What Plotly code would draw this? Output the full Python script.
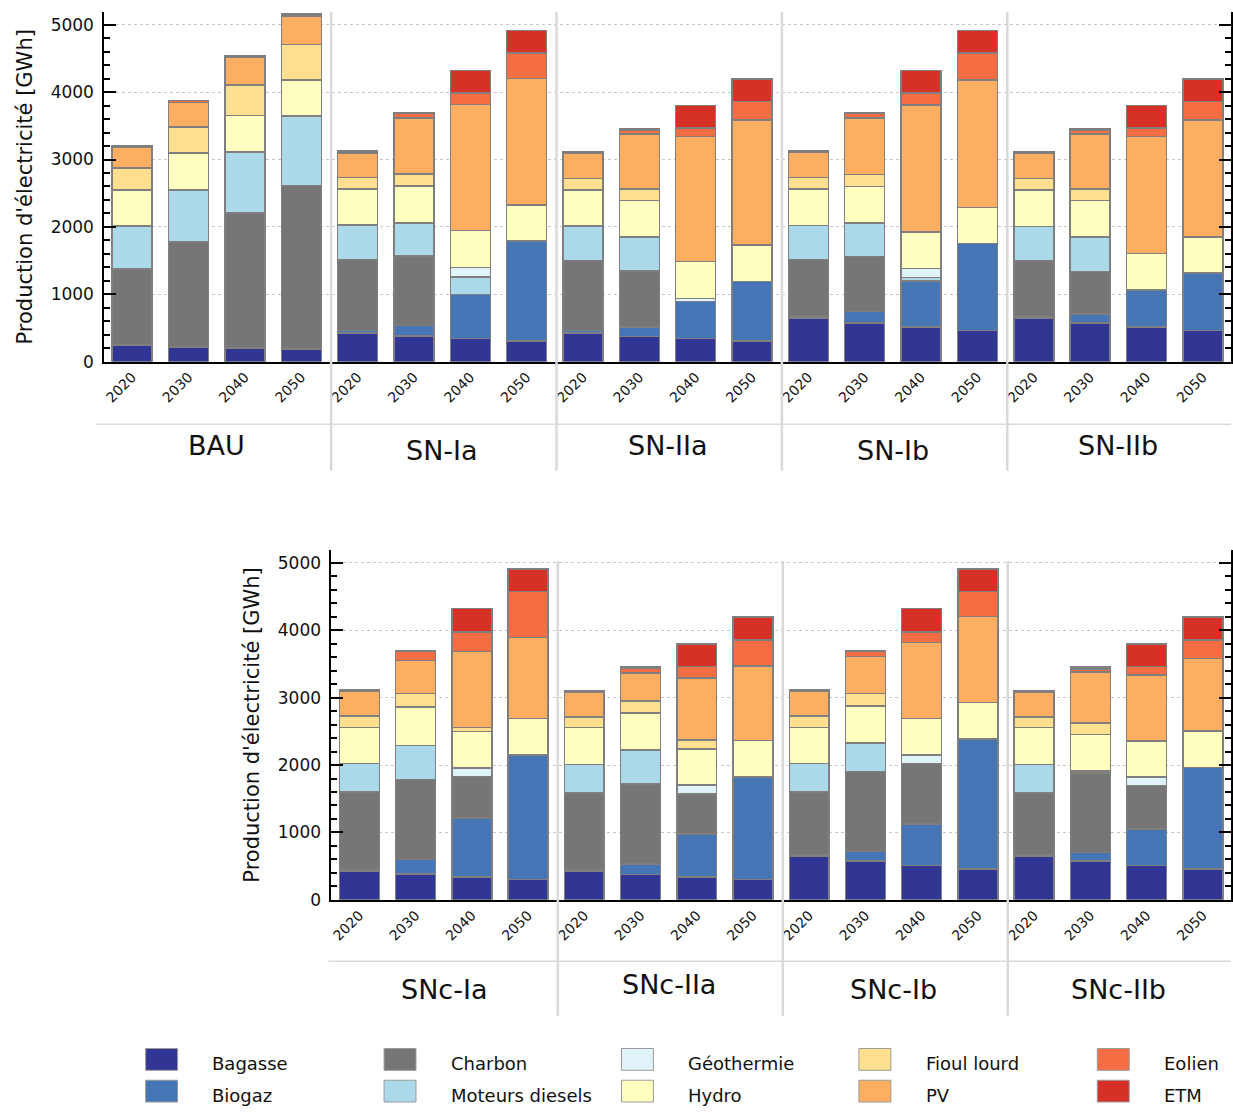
import plotly.graph_objects as go

W, H = 1233, 1115

years = ["2020", "2030", "2040", "2050"]
top_scenarios = ["BAU", "SN-Ia", "SN-IIa", "SN-Ib", "SN-IIb"]
bottom_scenarios = ["SNc-Ia", "SNc-IIa", "SNc-Ib", "SNc-IIb"]
techs = ["Bagasse", "Biogaz", "Charbon", "Moteurs diesels", "Géothermie",
         "Hydro", "Fioul lourd", "PV", "Eolien", "ETM"]
colors = ["#313695", "#4575b4", "#767676", "#abd9e9", "#e0f3f8",
          "#ffffbf", "#fee090", "#fdae61", "#f46d43", "#d73027"]

# ---- top panel values (GWh), 5 scenarios x 4 years ----
bagasse_top = [245, 221, 206, 186, 426, 382, 343, 304, 426, 377, 343, 304, 647, 578, 515, 466, 647, 578, 515, 466]
biogaz_top = [0, 0, 0, 0, 40, 157, 652, 1485, 40, 138, 549, 887, 25, 167, 686, 1289, 25, 133, 549, 848]
charbon_top = [1127, 1558, 2000, 2427, 1054, 1030, 0, 0, 1039, 833, 0, 0, 848, 814, 0, 0, 833, 627, 0, 0]
diesel_top = [638, 770, 907, 1029, 505, 490, 265, 0, 505, 500, 0, 0, 500, 500, 49, 0, 500, 510, 0, 0]
geo_top = [0, 0, 0, 0, 0, 0, 137, 0, 0, 0, 49, 0, 0, 0, 132, 0, 0, 0, 0, 0]
hydro_top = [539, 549, 539, 539, 539, 549, 549, 539, 539, 544, 544, 539, 544, 539, 544, 534, 544, 544, 544, 539]
fioul_top = [328, 382, 451, 525, 166, 176, 0, 0, 172, 167, 0, 0, 166, 181, 0, 0, 172, 167, 0, 0]
pv_top = [309, 368, 407, 426, 368, 834, 1873, 1873, 367, 823, 1858, 1858, 373, 839, 1883, 1887, 367, 823, 1735, 1735]
eolien_top = [25, 29, 24, 25, 25, 68, 166, 377, 25, 49, 123, 270, 24, 68, 176, 402, 25, 49, 123, 270]
etm_top = [0, 0, 0, 0, 0, 15, 339, 339, 0, 20, 333, 338, 0, 15, 339, 339, 0, 20, 333, 338]

# ---- bottom panel values (GWh), 4 scenarios x 4 years ----
bagasse_bot = [426, 387, 338, 299, 426, 377, 338, 299, 647, 574, 510, 461, 647, 574, 510, 461]
biogaz_bot = [25, 211, 873, 1853, 20, 157, 637, 1520, 29, 147, 613, 1926, 29, 132, 539, 1505]
charbon_bot = [1147, 1186, 622, 0, 1142, 1187, 599, 0, 922, 1186, 897, 0, 912, 1176, 647, 0]
diesel_bot = [422, 505, 0, 0, 417, 504, 0, 0, 422, 417, 0, 0, 417, 30, 0, 0]
geo_bot = [0, 0, 123, 0, 0, 0, 127, 0, 0, 0, 127, 0, 0, 0, 123, 0]
hydro_bot = [539, 574, 539, 539, 549, 550, 539, 544, 539, 553, 544, 539, 549, 544, 539, 539]
fioul_bot = [166, 196, 64, 0, 162, 176, 133, 0, 166, 182, 0, 0, 162, 171, 0, 0]
pv_bot = [373, 490, 1122, 1201, 367, 412, 916, 1108, 373, 554, 1128, 1275, 367, 750, 980, 1078]
eolien_bot = [20, 137, 294, 686, 25, 73, 172, 387, 20, 73, 156, 377, 25, 49, 123, 275]
etm_bot = [0, 15, 349, 334, 0, 15, 333, 338, 0, 15, 349, 334, 0, 25, 333, 338]

top_values = [bagasse_top, biogaz_top, charbon_top, diesel_top, geo_top,
              hydro_top, fioul_top, pv_top, eolien_top, etm_top]
bot_values = [bagasse_bot, biogaz_bot, charbon_bot, diesel_bot, geo_bot,
              hydro_bot, fioul_bot, pv_bot, eolien_bot, etm_bot]

FONT = "DejaVu Sans"
TXT = "#111111"

n_top = len(top_scenarios) * len(years)
n_bot = len(bottom_scenarios) * len(years)
x_top = list(range(n_top))
x_bot = list(range(n_bot))

fig = go.Figure()
for name, col, vt, vb in zip(techs, colors, top_values, bot_values):
    fig.add_trace(go.Bar(x=x_top, y=vt, name=name, marker=dict(color=col, line=dict(color="#7f7f7f", width=1.5)),
                         xaxis="x", yaxis="y", showlegend=False))
    fig.add_trace(go.Bar(x=x_bot, y=vb, name=name, marker=dict(color=col, line=dict(color="#7f7f7f", width=1.5)),
                         xaxis="x2", yaxis="y2", showlegend=False))


def px(x):
    return x / W


def py(y):
    return 1 - y / H


def fnt(size, weight=400):
    return dict(family=FONT, size=size, color=TXT, weight=weight)


yaxis_common = dict(
    range=[0, 5190], dtick=1000, tick0=0, ticks="inside", ticklen=12, tickwidth=1.5, tickcolor="black",
    showline=True, linecolor="black", linewidth=1.5, mirror="ticks",
    showgrid=True, gridcolor="#c8c8c8", griddash="dot", gridwidth=1,
    minor=dict(dtick=200, ticks="inside", ticklen=6, tickcolor="black", showgrid=False),
    tickfont=fnt(17), zeroline=False, ticklabelstandoff=5,
    title=dict(text="Production d'électricité [GWh]", font=fnt(21), standoff=12),
)
xaxis_common = dict(
    tickangle=-45, tickfont=fnt(14), showline=True, linecolor="black",
    linewidth=1.5, ticks="", showgrid=False, zeroline=False,
)

fig.update_layout(
    width=W, height=H, margin=dict(l=0, r=0, t=0, b=0),
    paper_bgcolor="white", plot_bgcolor="white", barmode="stack", bargap=0.29,
    font=fnt(14),
    xaxis=dict(domain=[px(103.3), px(1233)], range=[-0.5, n_top - 0.5], tickvals=x_top,
               ticktext=years * len(top_scenarios), anchor="y", **xaxis_common),
    yaxis=dict(domain=[py(365), py(12)], anchor="x", **yaxis_common),
    xaxis2=dict(domain=[px(331), px(1233)], range=[-0.5, n_bot - 0.5], tickvals=x_bot,
                ticktext=years * len(bottom_scenarios), anchor="y2", **xaxis_common),
    yaxis2=dict(domain=[py(908), py(555)], anchor="x2", **yaxis_common),
)

shapes = []
annotations = []
# group separators, baselines and scenario labels
for k in range(1, len(top_scenarios)):
    shapes.append(dict(type="line", xref="x", yref="paper", x0=4 * k - 0.47, x1=4 * k - 0.47,
                       y0=py(475), y1=py(12), line=dict(color="#d9d9d9", width=2.5), layer="above"))
shapes.append(dict(type="line", xref="paper", yref="paper", x0=px(95), x1=px(1233), y0=py(428), y1=py(428),
                   line=dict(color="#d9d9d9", width=1.5)))
for k, s in enumerate(top_scenarios):
    annotations.append(dict(text=s, xref="x", yref="paper", x=4 * k + 1.5, y=py(455 if k % 2 else 450),
                            showarrow=False, font=fnt(27), xanchor="center", yanchor="middle"))
for k in range(1, len(bottom_scenarios)):
    shapes.append(dict(type="line", xref="x2", yref="paper", x0=4 * k - 0.47, x1=4 * k - 0.47,
                       y0=py(1025), y1=py(566), line=dict(color="#d9d9d9", width=2.5), layer="above"))
shapes.append(dict(type="line", xref="paper", yref="paper", x0=px(328), x1=px(1233), y0=py(970), y1=py(970),
                   line=dict(color="#d9d9d9", width=1.5)))
for k, s in enumerate(bottom_scenarios):
    annotations.append(dict(text=s, xref="x2", yref="paper", x=4 * k + 1.5, y=py(993 if k == 1 else 998),
                            showarrow=False, font=fnt(27), xanchor="center", yanchor="middle"))

# legend (2 rows x 5 columns)
box_x = [145, 384, 622, 860, 1099]
row_y = [1069, 1101]
for i, (name, col) in enumerate(zip(techs, colors)):
    c, r = i // 2, i % 2
    x0 = box_x[c]
    yc = row_y[r]
    shapes.append(dict(type="rect", xref="paper", yref="paper", x0=px(x0), x1=px(x0 + 32),
                       y0=py(yc + 11), y1=py(yc - 11), fillcolor=col, line=dict(color="#9a9a9a", width=1)))
    annotations.append(dict(text=name, xref="paper", yref="paper", x=px(x0 + 65), y=py(yc + 4),
                            showarrow=False, xanchor="left", yanchor="middle", font=fnt(18)))

fig.update_layout(shapes=shapes, annotations=annotations)
fig.write_html("out.html", config={"displayModeBar": False},
               post_script="document.body.style.margin='0px';")
